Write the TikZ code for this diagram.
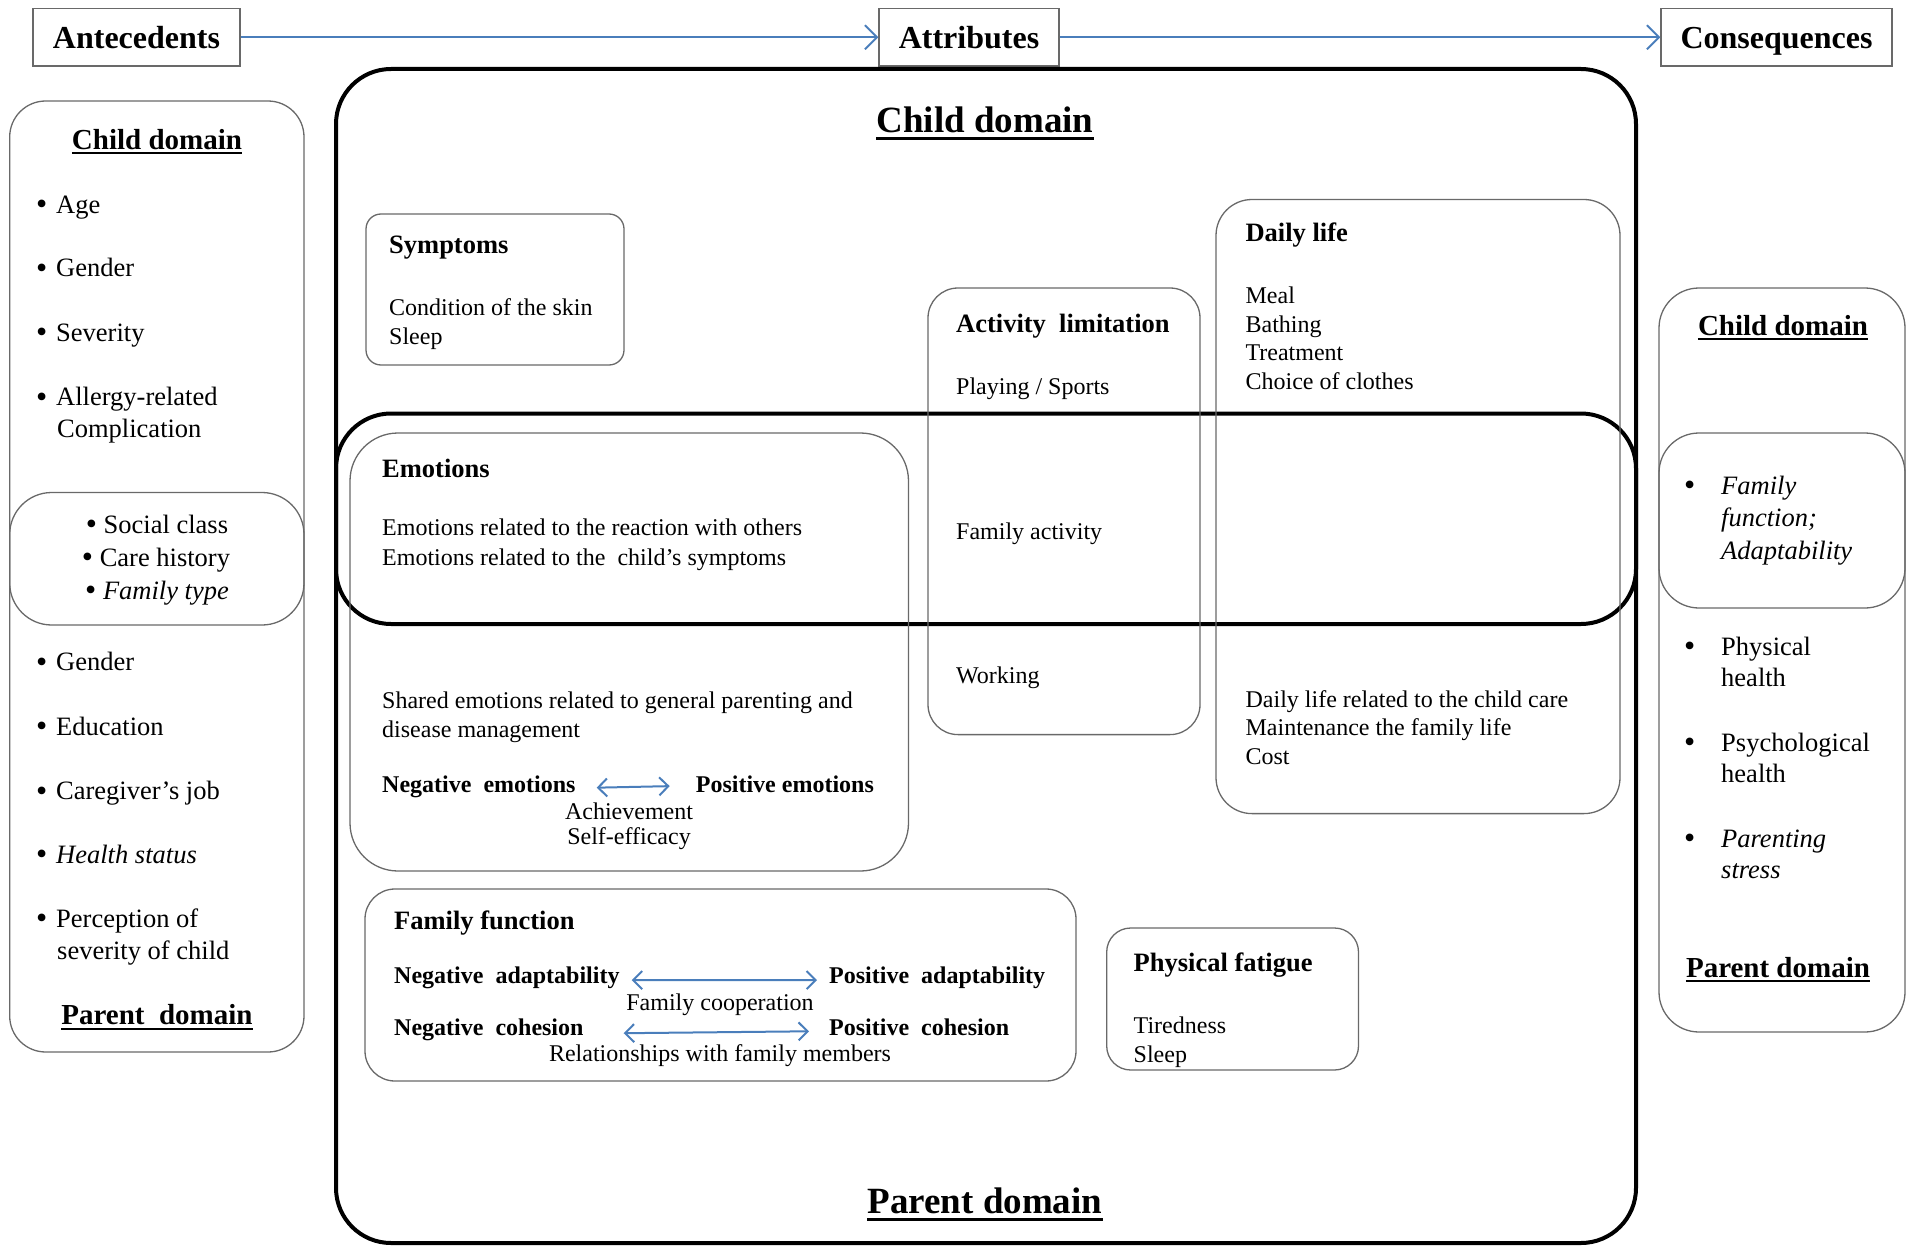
\documentclass[tikz,border=0pt]{standalone}
\usepackage{fontspec}
\setmainfont{Liberation Serif}
\usetikzlibrary{arrows.meta}
\definecolor{arrowblue}{RGB}{74,126,187}
\definecolor{boxgray}{RGB}{105,105,105}
\tikzset{
  thinbox/.style={draw=boxgray, line width=1.3pt},
  thickbox/.style={draw=black, line width=4pt},
  body/.style={anchor=mid west, inner sep=0pt, yshift=-7pt, font=\fontsize{24}{29}\selectfont},
  bodyc/.style={anchor=mid, inner sep=0pt, yshift=-7pt, font=\fontsize{24}{29}\selectfont},
  boldb/.style={anchor=mid west, inner sep=0pt, yshift=-7pt, font=\fontsize{24}{29}\selectfont\bfseries},
  head/.style={anchor=mid west, inner sep=0pt, yshift=-7pt, font=\fontsize{26.5}{32}\selectfont\bfseries},
  side/.style={anchor=mid west, inner sep=0pt, yshift=-7pt, font=\fontsize{26.5}{32}\selectfont},
  sidec/.style={anchor=mid, inner sep=0pt, yshift=-7pt, font=\fontsize{26.5}{32}\selectfont},
  sidehead/.style={anchor=mid, inner sep=0pt, yshift=-7pt, font=\fontsize{29}{35}\selectfont\bfseries},
  bighead/.style={anchor=mid, inner sep=0pt, yshift=-11pt, font=\fontsize{37}{44}\selectfont\bfseries},
  topbox/.style={draw=boxgray, line width=1.3pt, fill=white, inner sep=0pt,
                 text height=29pt, text depth=6.5pt,
                 minimum height=57.5pt, font=\fontsize{32}{38}\selectfont\bfseries},
  flow/.style={draw=arrowblue, line width=2pt, -{Straight Barb[length=12pt,width=24pt]}},
  dflow/.style={draw=arrowblue, line width=2pt,
                {Straight Barb[length=9pt,width=18pt]}-{Straight Barb[length=9pt,width=18pt]}},
  uline/.style={line width=2pt},
  bigline/.style={line width=2.8pt},
}
\newcommand{\bigdot}{\raisebox{-1.5pt}{\fontsize{32}{32}\selectfont •}}
\newcommand{\lbul}{\makebox[20pt][l]{\bigdot}}
\newcommand{\bul}{\makebox[37pt][l]{\bigdot}}
\begin{document}
\begin{tikzpicture}[x=1pt,y=-1pt]
\useasboundingbox (0,0) rectangle (1907,1247);

% ---------- top row ----------
\node[topbox, minimum width=207pt] (ante) at (136.5,37.25) {Antecedents};
\node[topbox, minimum width=180pt] (attr) at (969,37.25) {Attributes};
\node[topbox, minimum width=231pt] (cons) at (1776.5,37.25) {Consequences};
\draw[flow] (ante) -- (attr);
\draw[flow] (attr) -- (cons);

% ---------- left panel ----------
\draw[thinbox, rounded corners=36pt] (9.7,101) rectangle (304,1052);
\draw[thinbox, rounded corners=42pt] (9.7,492.5) rectangle (304,625);
\node[sidehead] (lcd) at (157,140) {Child domain};
\draw[uline] ([yshift=-4pt]lcd.base west) -- ([yshift=-4pt]lcd.base east);
\node[side] (l1) at (36,204) {\lbul Age};
\node[side] (l2) at (36,267.5) {\lbul Gender};
\node[side] (l3) at (36,332) {\lbul Severity};
\node[side] (l4) at (36,396.5) {\lbul Allergy-related};
\node[side] (l4b) at (57,428) {Complication};
\node[sidec] (l5) at (157,524) {\bigdot\ Social class};
\node[sidec] (l6) at (156,557) {\bigdot\ Care history};
\node[sidec] (l7) at (157,590) {\bigdot\ \textit{Family type}};
\node[side] (l8) at (36,661.6) {\lbul Gender};
\node[side] (l9) at (36,726) {\lbul Education};
\node[side] (l10) at (36,790.5) {\lbul Caregiver’s job};
\node[side] (l11) at (36,854) {\lbul\textit{Health status}};
\node[side] (l12) at (36,918) {\lbul Perception of};
\node[side] (l12b) at (57,950) {severity of child};
\node[sidehead] (lpd) at (157,1015.5) {Parent~~domain};
\draw[uline] ([yshift=-4pt]lpd.base west) -- ([yshift=-4pt]lpd.base east);

% ---------- right panel ----------
\draw[thinbox, rounded corners=40pt] (1659,288) rectangle (1905,1032);
\draw[thinbox, rounded corners=40pt] (1659,433) rectangle (1905,608);
\node[sidehead] (rcd) at (1783,326) {Child domain};
\draw[uline] ([yshift=-4pt]rcd.base west) -- ([yshift=-4pt]rcd.base east);
\node[side] (r1) at (1684,485) {\bul\textit{Family}};
\node[side] (r1b) at (1721,517) {\textit{function;}};
\node[side] (r1c) at (1721,550) {\textit{Adaptability}};
\node[side] (r2) at (1684,646) {\bul Physical};
\node[side] (r2b) at (1721,677) {health};
\node[side] (r3) at (1684,742) {\bul Psychological};
\node[side] (r3b) at (1721,773.5) {health};
\node[side] (r4) at (1684,838) {\bul\textit{Parenting}};
\node[side] (r4b) at (1721,869.6) {\textit{stress}};
\node[sidehead] (rpd) at (1778,968) {Parent domain};
\draw[uline] ([yshift=-4pt]rpd.base west) -- ([yshift=-4pt]rpd.base east);

% ---------- attributes ----------
\draw[thickbox, rounded corners=55pt] (336,69) rectangle (1636,1243);
\draw[thickbox, rounded corners=55pt] (336,413.5) rectangle (1636,624);
\node[bighead] (acd) at (985,119) {Child domain};
\draw[bigline] ([yshift=-6pt]acd.base west) -- ([yshift=-6pt]acd.base east);
\node[bighead] (apd) at (985,1200) {Parent domain};
\draw[bigline] ([yshift=-6pt]apd.base west) -- ([yshift=-6pt]apd.base east);

% Symptoms
\draw[thinbox, rounded corners=15pt] (366,214) rectangle (624,365);
\node[head] (sy) at (389,244.5) {Symptoms};
\node[body] (sy1) at (389,306.5) {Condition of the skin};
\node[body] (sy2) at (389,335.7) {Sleep};

% Emotions
\draw[thinbox, rounded corners=48pt] (350,433) rectangle (908.5,871);
\node[head] (em) at (382,468) {Emotions};
\node[body] (em1) at (382,526.6) {Emotions related to the reaction with others};
\node[body] (em2) at (382,555.8) {Emotions related to the~~child’s symptoms};
\node[body] (em3) at (382,699) {Shared emotions related to general parenting and};
\node[body] (em4) at (382,728.5) {disease management};
\node[boldb] (nege) at (382,783) {Negative~~emotions};
\node[boldb] (pose) at (695.7,783) {Positive emotions};
\draw[dflow, shorten <=21pt, shorten >=26pt] ([yshift=-1.5pt]nege.east) -- ([yshift=-1.5pt]pose.west);
\node[bodyc] (em5) at (629,810) {Achievement};
\node[bodyc] (em6) at (629,835.5) {Self-efficacy};

% Activity limitation
\draw[thinbox, rounded corners=30pt] (928,288) rectangle (1200,734.6);
\node[head] (al) at (956,323.5) {Activity~~limitation};
\node[body] (al1) at (956,385.5) {Playing / Sports};
\node[body] (al2) at (956,530) {Family activity};
\node[body] (al3) at (956,673.8) {Working};

% Daily life
\draw[thinbox, rounded corners=36pt] (1216,199.5) rectangle (1620,813.6);
\node[head] (dl) at (1245.4,232) {Daily life};
\node[body] (dl1) at (1245.4,294) {Meal};
\node[body] (dl2) at (1245.4,323.5) {Bathing};
\node[body] (dl3) at (1245.4,351.5) {Treatment};
\node[body] (dl4) at (1245.4,380.7) {Choice of clothes};
\node[body] (dl5) at (1245.4,698) {Daily life related to the child care};
\node[body] (dl6) at (1245.4,726) {Maintenance the family life};
\node[body] (dl7) at (1245.4,755) {Cost};

% Family function
\draw[thinbox, rounded corners=30pt] (365,889) rectangle (1076,1081);
\node[head] (ff) at (394,920.6) {Family function};
\node[boldb] (nega) at (394,974) {Negative~~adaptability};
\node[boldb] (posa) at (829,974) {Positive~~adaptability};
\draw[dflow, shorten <=12pt, shorten >=12pt] ([yshift=-2.5pt]nega.east) -- ([yshift=-2.5pt]posa.west);
\node[bodyc] (ff1) at (720,1001) {Family cooperation};
\node[boldb] (negc) at (394,1026.5) {Negative~~cohesion};
\node[boldb] (posc) at (829,1026.5) {Positive~~cohesion};
\draw[dflow, shorten <=40pt, shorten >=20pt] ([yshift=-3.5pt]negc.east) -- ([yshift=-3.5pt]posc.west);
\node[bodyc] (ff2) at (720,1052) {Relationships with family members};

% Physical fatigue
\draw[thinbox, rounded corners=24pt] (1106.7,928) rectangle (1358.5,1070);
\node[head] (pf) at (1133.5,962) {Physical fatigue};
\node[body] (pf1) at (1133.5,1024) {Tiredness};
\node[body] (pf2) at (1133.5,1053) {Sleep};
\end{tikzpicture}
\end{document}
